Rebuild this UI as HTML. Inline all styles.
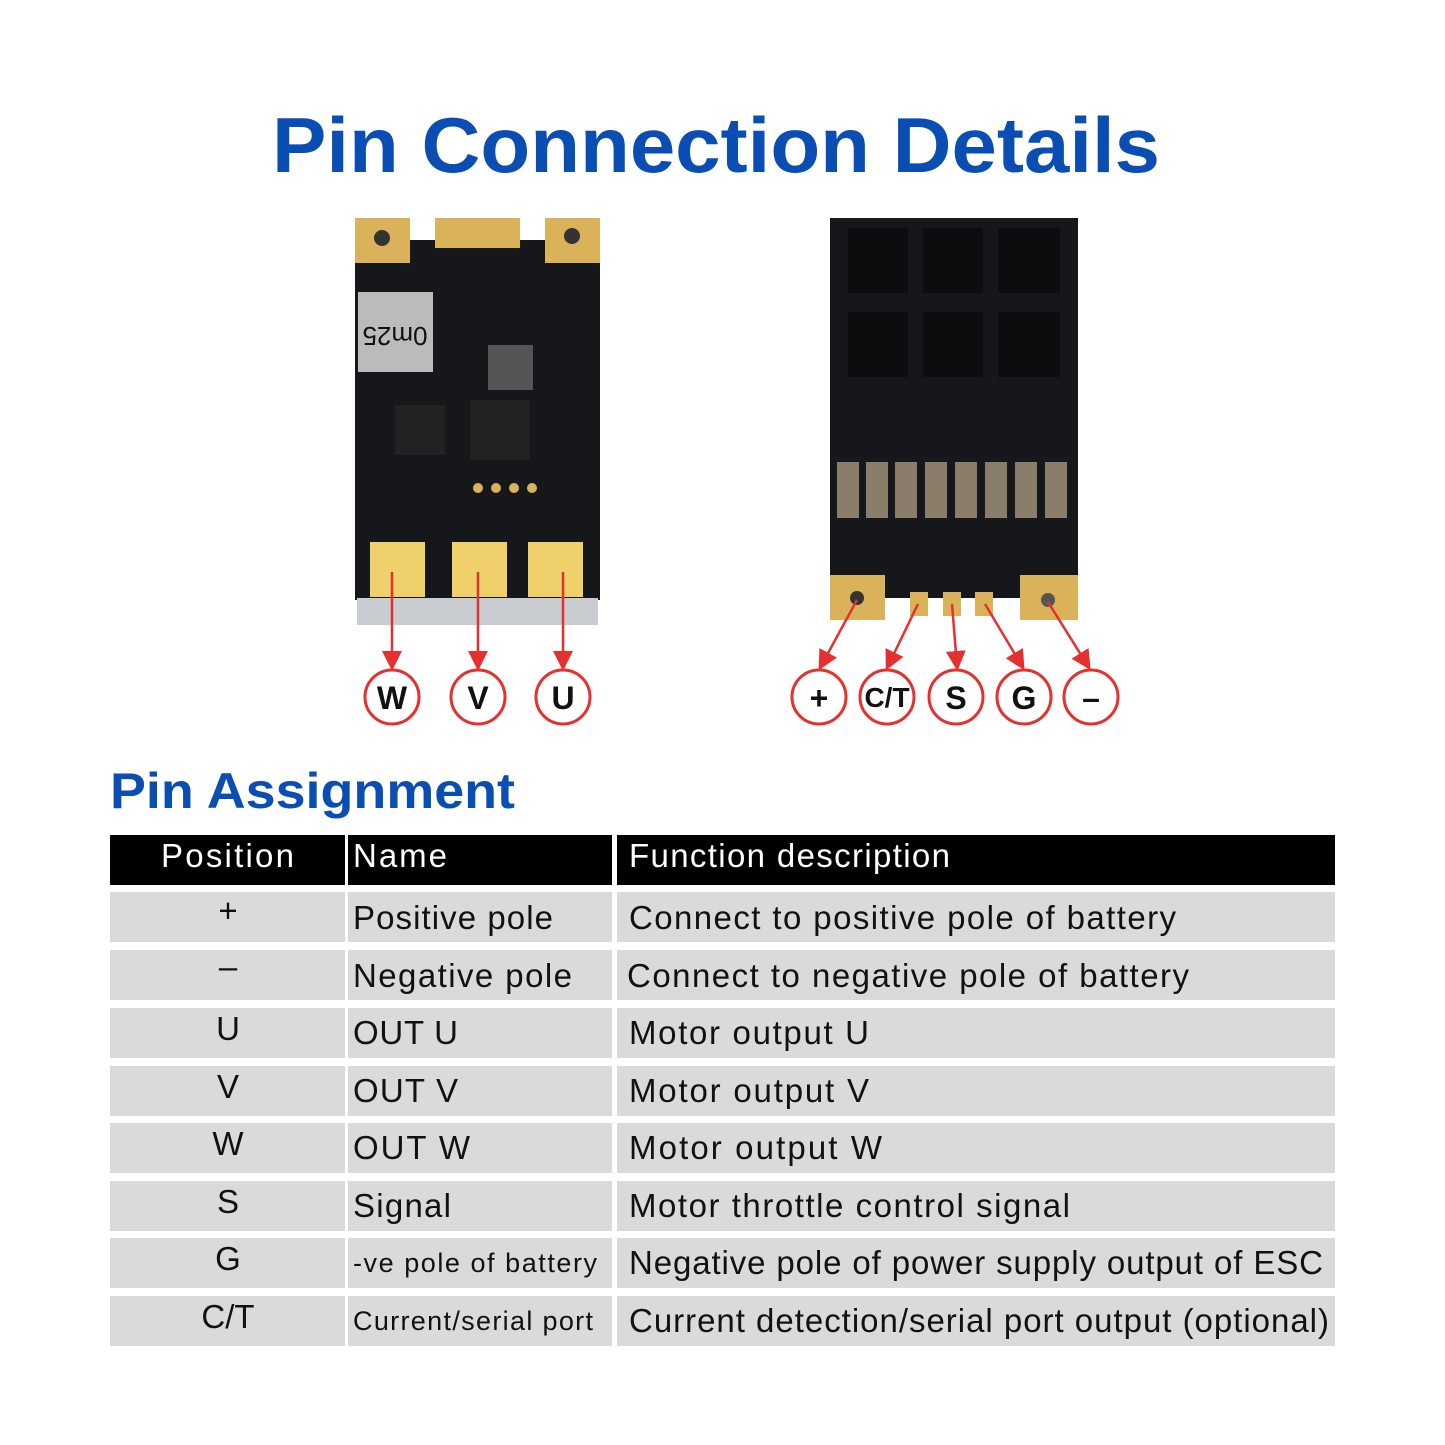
<!DOCTYPE html>
<html><head><meta charset="utf-8"><style>
body{margin:0;background:#fff;width:1445px;height:1445px;position:relative;overflow:hidden;font-family:"Liberation Sans",sans-serif}
</style></head><body>
<svg width="1445" height="1445" style="position:absolute;left:0;top:0">
<defs><marker id="a" markerWidth="8" markerHeight="8" refX="6" refY="4" orient="auto"><path d="M0,0 L8,4 L0,8z" fill="#e53030"/></marker></defs>
<text x="272" y="172" font-size="78" font-weight="bold" fill="#0a4db3" textLength="888" lengthAdjust="spacingAndGlyphs">Pin Connection Details</text>
<text x="110" y="808" font-size="50" font-weight="bold" fill="#0a4db3" textLength="405" lengthAdjust="spacingAndGlyphs">Pin Assignment</text>
<!-- left board -->
<rect x="355" y="240" width="245" height="360" fill="#15171a"/>
<rect x="357" y="598" width="241" height="27" fill="#c9ccd0"/>
<rect x="355" y="218" width="55" height="45" fill="#d9b25a"/><circle cx="382" cy="238" r="8" fill="#333"/>
<rect x="545" y="218" width="55" height="45" fill="#d9b25a"/><circle cx="572" cy="236" r="8" fill="#333"/>
<rect x="435" y="218" width="85" height="30" fill="#d9b25a"/>
<rect x="358" y="292" width="75" height="80" fill="#bbb"/><text x="395" y="343" font-size="26" fill="#111" text-anchor="middle" transform="rotate(180 395 335)">0m25</text>
<rect x="488" y="345" width="45" height="45" fill="#555"/>
<rect x="395" y="405" width="50" height="50" fill="#222"/><rect x="470" y="400" width="60" height="60" fill="#222"/>
<circle cx="478" cy="488" r="5" fill="#d9b25a"/><circle cx="496" cy="488" r="5" fill="#d9b25a"/><circle cx="514" cy="488" r="5" fill="#d9b25a"/><circle cx="532" cy="488" r="5" fill="#d9b25a"/>
<rect x="370" y="542" width="55" height="55" fill="#f0d06a"/><rect x="452" y="542" width="55" height="55" fill="#f0d06a"/><rect x="528" y="542" width="55" height="55" fill="#f0d06a"/>
<!-- right board -->
<rect x="830" y="218" width="248" height="380" fill="#15171a"/>
<g fill="#0c0d0f"><rect x="848" y="228" width="60" height="65"/><rect x="923" y="228" width="60" height="65"/><rect x="998" y="228" width="62" height="65"/><rect x="848" y="312" width="60" height="65"/><rect x="923" y="312" width="60" height="65"/><rect x="998" y="312" width="62" height="65"/></g>
<g fill="#8a7d6a"><rect x="837" y="462" width="22" height="56"/><rect x="866" y="462" width="22" height="56"/><rect x="895" y="462" width="22" height="56"/><rect x="925" y="462" width="22" height="56"/><rect x="955" y="462" width="22" height="56"/><rect x="985" y="462" width="22" height="56"/><rect x="1015" y="462" width="22" height="56"/><rect x="1045" y="462" width="22" height="56"/></g>
<rect x="830" y="575" width="55" height="45" fill="#d9b25a"/><circle cx="857" cy="598" r="7" fill="#333"/>
<rect x="1020" y="575" width="58" height="45" fill="#d9b25a"/><circle cx="1048" cy="600" r="7" fill="#555"/>
<rect x="910" y="592" width="18" height="24" fill="#d9b25a"/><rect x="943" y="592" width="18" height="24" fill="#d9b25a"/><rect x="975" y="592" width="18" height="24" fill="#d9b25a"/>
<g stroke="#e53030" stroke-width="2.5" marker-end="url(#a)">
<line x1="392" y1="572" x2="392" y2="666"/><line x1="478" y1="572" x2="478" y2="666"/><line x1="563" y1="572" x2="563" y2="666"/>
<line x1="857" y1="600" x2="821" y2="666"/><line x1="918" y1="604" x2="888" y2="666"/><line x1="952" y1="604" x2="957" y2="666"/><line x1="985" y1="604" x2="1022" y2="666"/><line x1="1048" y1="602" x2="1088" y2="666"/>
</g>
<g fill="#fff" stroke="#e53030" stroke-width="3">
<circle cx="392" cy="697" r="27"/><circle cx="478" cy="697" r="27"/><circle cx="563" cy="697" r="27"/>
<circle cx="819" cy="697" r="27"/><circle cx="887" cy="697" r="27"/><circle cx="956" cy="697" r="27"/><circle cx="1024" cy="697" r="27"/><circle cx="1091" cy="697" r="27"/>
</g>
<g font-size="32" font-weight="bold" text-anchor="middle" fill="#111">
<text x="392" y="709">W</text><text x="478" y="709">V</text><text x="563" y="709">U</text>
<text x="819" y="709">+</text><text x="887" y="707" font-size="28">C/T</text><text x="956" y="709">S</text><text x="1024" y="709">G</text><text x="1091" y="709">–</text>
</g>
<rect x="110" y="835" width="235" height="50" fill="#000"/><rect x="348" y="835" width="264" height="50" fill="#000"/><rect x="617" y="835" width="718" height="50" fill="#000"/>
<g fill="#dadada">
<rect x="110" y="892" width="235" height="50"/><rect x="348" y="892" width="264" height="50"/><rect x="617" y="892" width="718" height="50"/>
<rect x="110" y="950" width="235" height="50"/><rect x="348" y="950" width="264" height="50"/><rect x="617" y="950" width="718" height="50"/>
<rect x="110" y="1008" width="235" height="50"/><rect x="348" y="1008" width="264" height="50"/><rect x="617" y="1008" width="718" height="50"/>
<rect x="110" y="1066" width="235" height="50"/><rect x="348" y="1066" width="264" height="50"/><rect x="617" y="1066" width="718" height="50"/>
<rect x="110" y="1123" width="235" height="50"/><rect x="348" y="1123" width="264" height="50"/><rect x="617" y="1123" width="718" height="50"/>
<rect x="110" y="1181" width="235" height="50"/><rect x="348" y="1181" width="264" height="50"/><rect x="617" y="1181" width="718" height="50"/>
<rect x="110" y="1238" width="235" height="50"/><rect x="348" y="1238" width="264" height="50"/><rect x="617" y="1238" width="718" height="50"/>
<rect x="110" y="1296" width="235" height="50"/><rect x="348" y="1296" width="264" height="50"/><rect x="617" y="1296" width="718" height="50"/>
</g>
<g font-size="33" fill="#fff" lengthAdjust="spacingAndGlyphs"><text x="161" y="867" textLength="133">Position</text><text x="353" y="867" textLength="94">Name</text><text x="629" y="867" textLength="321">Function description</text></g>
<g font-size="33" fill="#111">
<text x="228" y="922" text-anchor="middle">+</text><text x="353" y="929" textLength="200">Positive pole</text><text x="629" y="929" textLength="547">Connect to positive pole of battery</text>
<text x="228" y="978" text-anchor="middle">–</text><text x="353" y="987" textLength="219">Negative pole</text><text x="627" y="987" textLength="562">Connect to negative pole of battery</text>
<text x="228" y="1040" text-anchor="middle">U</text><text x="353" y="1044" textLength="105">OUT U</text><text x="629" y="1044" textLength="240">Motor output U</text>
<text x="228" y="1098" text-anchor="middle">V</text><text x="353" y="1102" textLength="105">OUT V</text><text x="629" y="1102" textLength="240">Motor output V</text>
<text x="228" y="1155" text-anchor="middle">W</text><text x="353" y="1159" textLength="117">OUT W</text><text x="629" y="1159" textLength="253">Motor output W</text>
<text x="228" y="1213" text-anchor="middle">S</text><text x="353" y="1217" textLength="98">Signal</text><text x="629" y="1217" textLength="441">Motor throttle control signal</text>
<text x="228" y="1270" text-anchor="middle">G</text><text x="353" y="1272" font-size="27" textLength="244">-ve pole of battery</text><text x="629" y="1274" textLength="694">Negative pole of power supply output of ESC</text>
<text x="228" y="1328" text-anchor="middle">C/T</text><text x="353" y="1330" font-size="27" textLength="240">Current/serial port</text><text x="629" y="1332" textLength="700">Current detection/serial port output (optional)</text>
</g>
</svg>
</body></html>
